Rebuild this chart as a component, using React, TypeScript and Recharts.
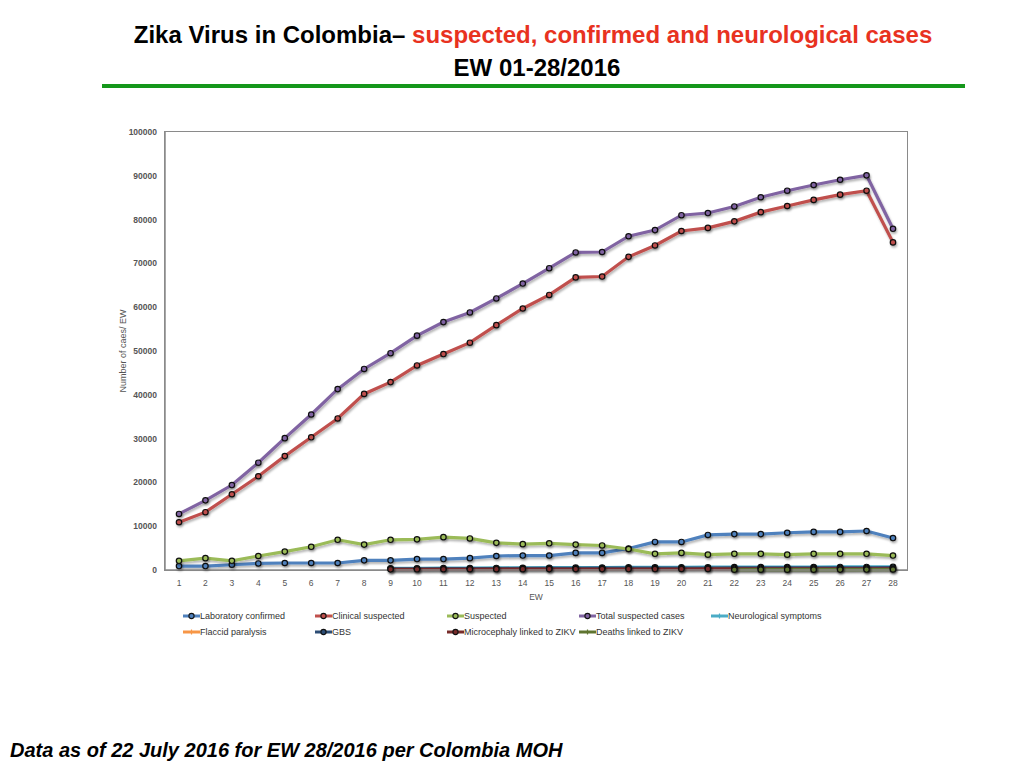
import React from 'react';
import { LineChart, Line, XAxis, YAxis } from 'recharts';

const weeks = [1, 2, 3, 4, 5, 6, 7, 8, 9, 10, 11, 12, 13, 14, 15, 16, 17, 18, 19, 20, 21, 22, 23, 24, 25, 26, 27, 28];

const labConfirmed = [900, 900, 1200, 1500, 1600, 1600, 1600, 2200, 2200, 2500, 2500, 2700, 3200, 3300, 3300, 3900, 3900, 4900, 6400, 6400, 8000, 8200, 8200, 8500, 8700, 8700, 8900, 7300];
const clinicalSuspected = [10900, 13200, 17300, 21400, 26000, 30300, 34600, 40200, 42900, 46700, 49300, 51900, 55900, 59700, 62800, 66800, 67000, 71500, 74100, 77400, 78100, 79600, 81700, 83100, 84500, 85700, 86600, 74800];
const suspected = [2100, 2700, 2100, 3200, 4200, 5300, 6900, 5800, 6900, 7000, 7500, 7200, 6200, 5900, 6100, 5800, 5600, 4800, 3700, 3900, 3500, 3700, 3700, 3500, 3700, 3700, 3700, 3300];
const totalSuspected = [12800, 15900, 19400, 24500, 30100, 35500, 41300, 45900, 49500, 53500, 56600, 58800, 62000, 65400, 68900, 72500, 72600, 76200, 77600, 81000, 81500, 83000, 85100, 86600, 87900, 89100, 90100, 77900];
const neuroSymptoms = [null, null, null, null, null, null, null, null, 380, 400, 430, 450, 470, 490, 520, 540, 560, 590, 610, 620, 640, 650, 660, 670, 690, 700, 700, 710];
const flaccidParalysis = [null, null, null, null, null, null, null, null, null, null, null, null, null, null, null, null, null, null, null, null, null, null, null, null, null, null, null, null];
const gbs = [null, null, null, null, null, null, null, null, 250, 270, 300, 320, 340, 360, 380, 400, 410, 430, 440, 450, 460, 470, 480, 490, 500, 500, 510, 520];
const microcephaly = [null, null, null, null, null, null, null, null, 150, 160, 170, 170, 180, 190, 200, 200, 210, 220, 220, 230, 240, 240, 250, 260, 260, 270, 280, 290];
const deaths = [null, null, null, null, null, null, null, null, null, null, null, null, null, null, null, null, null, null, null, null, null, 60, 65, 80, 85, 95, 100, 110];

const yTicks = [0, 10000, 20000, 30000, 40000, 50000, 60000, 70000, 80000, 90000, 100000];

const series = [
  { key: 'lab', name: 'Laboratory confirmed', color: '#4f81bd', values: labConfirmed, dot: true },
  { key: 'clinical', name: 'Clinical suspected', color: '#c0504d', values: clinicalSuspected, dot: true },
  { key: 'suspected', name: 'Suspected', color: '#9bbb59', values: suspected, dot: true },
  { key: 'total', name: 'Total suspected cases', color: '#8064a2', values: totalSuspected, dot: true },
  { key: 'neuro', name: 'Neurological symptoms', color: '#4bacc6', values: neuroSymptoms, dot: false },
  { key: 'flaccid', name: 'Flaccid paralysis', color: '#f79646', values: flaccidParalysis, dot: false },
  { key: 'gbs', name: 'GBS', color: '#2c4d75', values: gbs, dot: true },
  { key: 'micro', name: 'Microcephaly linked to ZIKV', color: '#772c2a', values: microcephaly, dot: true },
  { key: 'deaths', name: 'Deaths linked to ZIKV', color: '#5f7530', values: deaths, dot: false },
];

const data = weeks.map((w, i) => {
  const row: Record<string, number | null> = { week: w };
  series.forEach((s) => {
    row[s.key] = s.values[i];
  });
  return row;
});

const LegendGrid = () => (
  <div
    style={{
      display: 'grid',
      gridTemplateColumns: 'repeat(5, 132px)',
      rowGap: 2,
      fontFamily: 'Liberation Sans, Arial, sans-serif',
      fontSize: 9,
      color: '#333',
    }}
  >
    {series.map((s) => (
      <div key={s.key} style={{ display: 'flex', alignItems: 'center', height: 14 }}>
        <svg width={17} height={8} style={{ flex: 'none' }}>
          <line x1={0} y1={4} x2={17} y2={4} stroke={s.color} strokeWidth={3} />
          {s.dot ? (
            <circle cx={8.5} cy={4} r={2.6} fill={s.color} stroke="#111" strokeWidth={1.1} />
          ) : (
            <line x1={8.5} y1={1.5} x2={8.5} y2={6.5} stroke={s.color} strokeWidth={1.2} />
          )}
        </svg>
        <span style={{ whiteSpace: 'nowrap' }}>{s.name}</span>
      </div>
    ))}
  </div>
);

const App = () => {
  return (
    <div
      style={{
        position: 'absolute',
        left: 0,
        top: 0,
        width: 1024,
        height: 768,
        background: '#fff',
        fontFamily: 'Liberation Sans, Arial, sans-serif',
        overflow: 'hidden',
      }}
    >
      <div style={{ position: 'absolute', top: 21, left: 0, width: 1066, textAlign: 'center', fontWeight: 'bold', fontSize: 24, whiteSpace: 'nowrap' }}>
        <span style={{ color: '#000' }}>Zika Virus in Colombia– </span>
        <span style={{ color: '#e8321f' }}>suspected, confirmed and neurological cases</span>
      </div>
      <div style={{ position: 'absolute', top: 54, left: 0, width: 1074, textAlign: 'center', fontWeight: 'bold', fontSize: 24, color: '#000' }}>
        EW 01-28/2016
      </div>
      <div style={{ position: 'absolute', top: 84, left: 102, width: 863, height: 4, background: '#15971b' }} />

      {/* plot frame */}
      <div style={{ position: 'absolute', left: 164, top: 131, width: 742, height: 438, border: '1.5px solid #8a8a8a' }} />

      <div style={{ position: 'absolute', left: 100, top: 120 }}>
        <LineChart width={820} height={490} data={data} margin={{ top: 12, right: 13, bottom: 10, left: 0 }}>
          <defs>
            <filter id="lineShadow" filterUnits="userSpaceOnUse" x={0} y={0} width={820} height={490}>
              <feDropShadow dx="1" dy="2" stdDeviation="1" floodColor="#000" floodOpacity="0.3" />
            </filter>
          </defs>
          <XAxis
            dataKey="week"
            type="category"
            padding={{ left: 14, right: 14 }}
            tickLine={false}
            axisLine={{ stroke: '#8a8a8a', strokeWidth: 1.5 }}
            tick={{ fontSize: 8.5, fill: '#555' }}
            tickMargin={4}
            height={30}
            interval={0}
            label={{ value: 'EW', position: 'insideBottom', offset: 0, fontSize: 8.5, fill: '#555' }}
          />
          <YAxis
            domain={[0, 100000]}
            ticks={yTicks}
            width={65}
            tickLine={false}
            axisLine={{ stroke: '#8a8a8a', strokeWidth: 1.5 }}
            tick={{ fontSize: 8.5, fill: '#555', fontWeight: 'bold' }}
            tickMargin={2}
            label={{ value: 'Number of caes/ EW', angle: -90, position: 'insideLeft', offset: 23, fontSize: 9, fill: '#555', style: { textAnchor: 'middle' } }}
          />
          {series.map((s) => (
            <Line
              key={s.key}
              dataKey={s.key}
              name={s.name}
              stroke={s.color}
              strokeWidth={3.2}
              filter="url(#lineShadow)"
              dot={{ r: 2.7, fill: s.color, stroke: '#111', strokeWidth: 1.2 }}
              activeDot={false}
              isAnimationActive={false}
            />
          ))}
        </LineChart>
      </div>

      <div style={{ position: 'absolute', left: 183, top: 609 }}>
        <LegendGrid />
      </div>

      <div style={{ position: 'absolute', left: 10, top: 739, fontWeight: 'bold', fontStyle: 'italic', fontSize: 20, color: '#000', whiteSpace: 'nowrap' }}>
        Data as of 22 July 2016 for EW 28/2016 per Colombia MOH
      </div>
    </div>
  );
};

export default App;
